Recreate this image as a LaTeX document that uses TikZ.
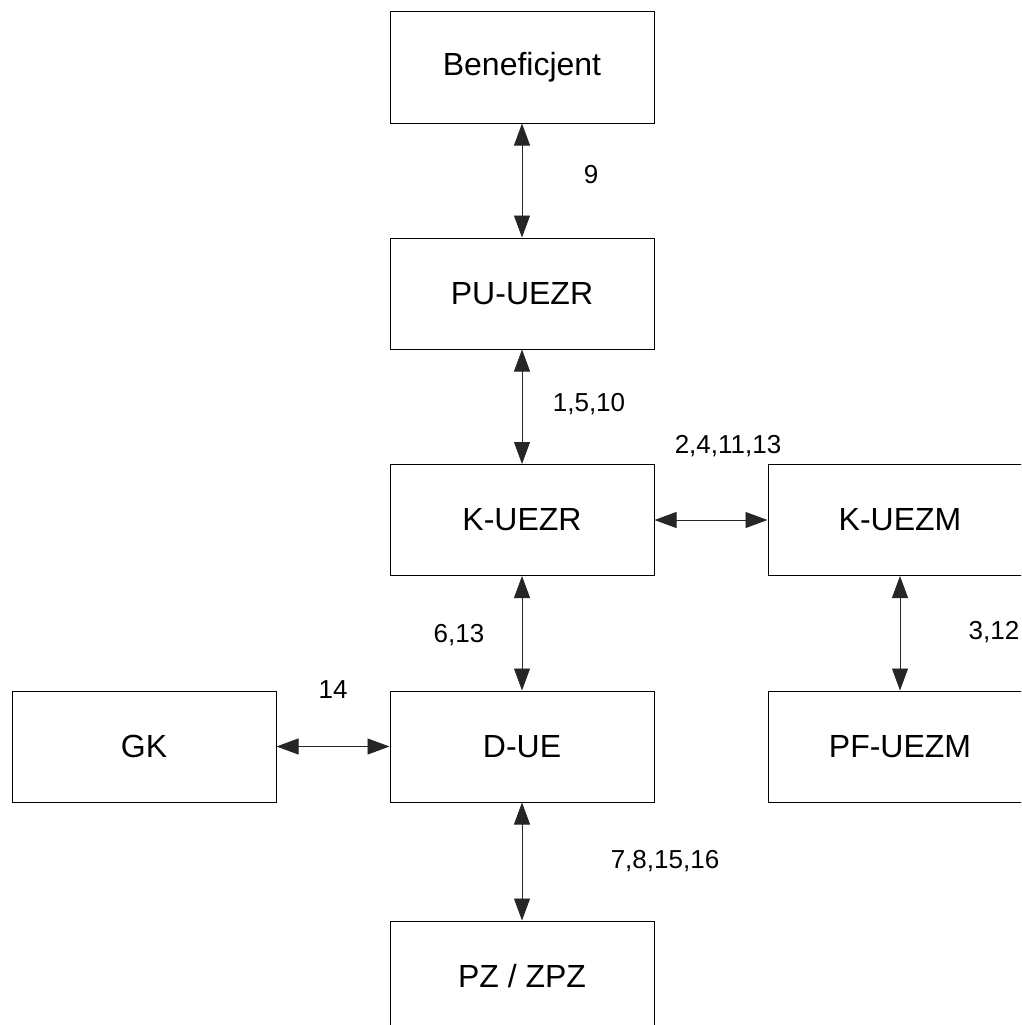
\documentclass[tikz,border=0pt]{standalone}
\usepackage{fontspec}
\setmainfont{Liberation Sans}
\usetikzlibrary{arrows.meta}
\begin{document}
\begin{tikzpicture}[
    x=1pt, y=-1pt,
    box/.style={rectangle, draw, line width=1pt, minimum width=264pt, minimum height=111pt, inner sep=0pt, font=\fontsize{32}{36}\selectfont},
    num/.style={font=\fontsize{26}{30}\selectfont, inner sep=0pt},
    link/.style={{Triangle[length=22pt,width=16pt]}-{Triangle[length=22pt,width=16pt]}, line width=0.9pt, black!85}
]
    \useasboundingbox (0,0) rectangle (1021,1025);
    \clip (0,0) rectangle (1021,1025);

    \node[box] (ben) at (522,67.5) {Beneficjent};
    \node[box] (puuezr) at (522,293.5) {PU-UEZR};
    \node[box] (kuezr) at (522,520) {K-UEZR};
    \node[box] (kuezm) at (900,520) {K-UEZM};
    \node[box] (gk) at (144,746.5) {GK};
    \node[box] (due) at (522,746.5) {D-UE};
    \node[box] (pfuezm) at (900,746.5) {PF-UEZM};
    \node[box] (pz) at (522,976.5) {PZ / ZPZ};

    \draw[link] (ben) -- (puuezr);
    \draw[link] (puuezr) -- (kuezr);
    \draw[link] (kuezr) -- (kuezm);
    \draw[link] (kuezm) -- (pfuezm);
    \draw[link] (kuezr) -- (due);
    \draw[link] (gk) -- (due);
    \draw[link] (due) -- (pz);

    \node[num] (n9) at (591,175) {9};
    \node[num] (n1510) at (589,404) {1,5,10};
    \node[num] (n241113) at (728,446) {2,4,11,13};
    \node[num] (n613) at (459,635) {6,13};
    \node[num] (n312) at (994,632) {3,12};
    \node[num] (n14) at (333,690) {14};
    \node[num] (n781516) at (665,861) {7,8,15,16};
\end{tikzpicture}
\end{document}
